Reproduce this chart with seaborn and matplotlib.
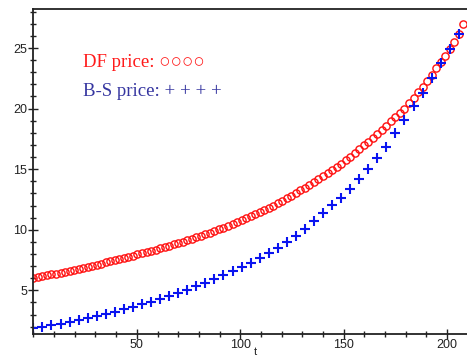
import numpy as np
import pandas as pd
import seaborn as sns
import matplotlib.pyplot as plt
from matplotlib.ticker import MultipleLocator, FixedLocator

sns.set_style('white')
plt.rcParams['font.family'] = ['Liberation Sans', 'DejaVu Sans']

# sampling times (regular grid of the pricing scheme)
t_df = np.arange(96) * 2.1875
t_bs = np.arange(48) * 4.375

# DF price
df_price = [6.00, 6.08, 6.15, 6.23, 6.31, 6.38, 6.46, 6.54, 6.61, 6.69,
            6.78, 6.86, 6.95, 7.04, 7.13, 7.21, 7.30, 7.39, 7.48, 7.57,
            7.67, 7.77, 7.87, 7.96, 8.06, 8.16, 8.26, 8.36, 8.46, 8.57,
            8.68, 8.79, 8.90, 9.02, 9.14, 9.26, 9.38, 9.51, 9.64, 9.77,
            9.90, 10.03, 10.18, 10.33, 10.49, 10.64, 10.80, 10.96, 11.13, 11.29,
            11.45, 11.63, 11.82, 12.00, 12.19, 12.38, 12.60, 12.82, 13.04, 13.26,
            13.48, 13.71, 13.94, 14.17, 14.40, 14.66, 14.93, 15.19, 15.45, 15.73,
            16.04, 16.34, 16.65, 16.96, 17.28, 17.61, 17.94, 18.27, 18.60, 18.95,
            19.30, 19.65, 20.00, 20.43, 20.89, 21.35, 21.81, 22.27, 22.80, 23.33,
            23.85, 24.37, 24.93, 25.49, 26.12, 27.00]

# Black-Scholes price
bs_price = [1.90, 2.01, 2.12, 2.26, 2.41, 2.57, 2.72, 2.88, 3.05, 3.23,
            3.42, 3.62, 3.83, 4.04, 4.28, 4.54, 4.80, 5.06, 5.33, 5.62,
            5.93, 6.24, 6.57, 6.90, 7.28, 7.65, 8.08, 8.51, 8.99, 9.49,
            10.04, 10.69, 11.35, 12.01, 12.66, 13.40, 14.16, 14.99, 15.91, 16.86,
            17.95, 19.04, 20.18, 21.31, 22.50, 23.73, 24.95, 26.19]

x_ticks = [50, 100, 150, 200]
y_ticks = [5, 10, 15, 20, 25]

df1 = pd.DataFrame({'t': t_df, 'price': df_price})
df2 = pd.DataFrame({'t': t_bs, 'price': bs_price})

fig = plt.figure(figsize=(4.67, 3.56), dpi=100)
ax = fig.add_axes([0.0715, 0.061, 0.9285, 0.913])

sns.lineplot(data=df1, x='t', y='price', ax=ax, linestyle='', marker='o',
             markersize=5.2, markerfacecolor='none', markeredgecolor='#ff1010',
             markeredgewidth=1.0)
sns.lineplot(data=df2, x='t', y='price', ax=ax, linestyle='', marker='+',
             markersize=6.5, markeredgecolor='#0a14f0', markeredgewidth=1.5,
             color='#0a14f0')

ax.set_xlim(0, 209.6)
ax.set_ylim(1.37, 28.2)
ax.xaxis.set_major_locator(FixedLocator(x_ticks))
ax.xaxis.set_minor_locator(MultipleLocator(10))
ax.yaxis.set_major_locator(FixedLocator(y_ticks))
ax.yaxis.set_minor_locator(MultipleLocator(1))
ax.tick_params(which='major', direction='inout', length=7, width=1,
               color='#222222', labelsize=9, pad=1, labelcolor='#222222')
ax.tick_params(axis='x', which='major', pad=0)
ax.tick_params(which='minor', direction='inout', length=5, width=1,
               color='#222222')
ax.tick_params(axis='x', which='both', bottom=True)
ax.tick_params(axis='y', which='both', left=True)

for side in ['left', 'bottom', 'top']:
    ax.spines[side].set_color('#222222')
    ax.spines[side].set_linewidth(1.3)
ax.spines['right'].set_visible(False)

ax.set_xlabel('t', fontsize=8, color='#222222', va='baseline')
ax.xaxis.set_label_coords(0.511, -0.064)
ax.set_ylabel('')

ax.text(0.115, 0.822, 'DF price: \u25cb\u25cb\u25cb\u25cb', transform=ax.transAxes,
        color='#ff1a1a', fontsize=13.5, family=['Liberation Serif', 'DejaVu Serif'])
ax.text(0.115, 0.732, 'B-S price: + + + +', transform=ax.transAxes,
        color='#3535a0', fontsize=13.5, family=['Liberation Serif', 'DejaVu Serif'])

fig.savefig('out.png', dpi=100)
